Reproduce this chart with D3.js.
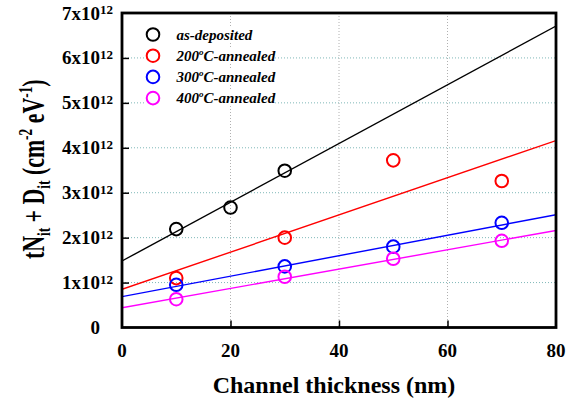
<!DOCTYPE html>
<html>
<head>
<meta charset="utf-8">
<script src="https://cdn.jsdelivr.net/npm/d3@7"></script>
<style>
  body { margin: 0; background: #fff; }
  svg { display: block; font-family: "Liberation Serif", "Times New Roman", serif; }
</style>
</head>
<body>
<div id="chart"></div>
<script>
// values in units of 1e12 cm^-2 eV^-1
const xDeposited = [10, 20, 30];
const yDeposited = [2.19, 2.67, 3.49];
const xAnnealed = [10, 30, 50, 70];
const y200 = [1.10, 2.00, 3.72, 3.26];
const y300 = [0.95, 1.36, 1.80, 2.33];
const y400 = [0.63, 1.13, 1.53, 1.93];
// linear fits: value at x = 0 and x = 80
const fitX = [0, 80];
const fitStart = [1.48, 0.85, 0.686, 0.44];
const fitEnd = [6.71, 4.16, 2.51, 2.16];
const seriesNames = ["as-deposited", "200", "300", "400"];
const seriesColors = ["#000000", "#ff0000", "#0000ff", "#ff00ff"];
const xTicks = [0, 20, 40, 60, 80];
const yTicks = [0, 1, 2, 3, 4, 5, 6, 7];

const width = 575, height = 401;
const margin = {top: 13, right: 19, bottom: 73.5, left: 122};
const w = width - margin.left - margin.right;
const h = height - margin.top - margin.bottom;

const svg = d3.select("#chart").append("svg")
    .attr("width", width)
    .attr("height", height);

const g = svg.append("g")
    .attr("transform", "translate(" + margin.left + "," + margin.top + ")");

const x = d3.scaleLinear().domain([0, 80]).range([0, w]);
const y = d3.scaleLinear().domain([0, 7]).range([h, 0]);

// grid
g.selectAll(".hgrid")
    .data(yTicks.slice(1, -1))
    .enter().append("line")
    .attr("x1", 0).attr("x2", w)
    .attr("y1", d => y(d)).attr("y2", d => y(d))
    .attr("stroke", "#7fb8b8")
    .attr("stroke-width", 1)
    .attr("stroke-dasharray", "1,2");

g.selectAll(".vgrid")
    .data(xTicks.slice(1, -1))
    .enter().append("line")
    .attr("x1", d => x(d)).attr("x2", d => x(d))
    .attr("y1", 0).attr("y2", h)
    .attr("stroke", "#b0b0b0")
    .attr("stroke-width", 1)
    .attr("stroke-dasharray", "1,2");

// fit lines
g.append("clipPath").attr("id", "plotclip")
    .append("rect").attr("width", w).attr("height", h);

const lineGen = d3.line().x(d => x(d[0])).y(d => y(d[1]));
seriesNames.forEach(function(name, i) {
    g.append("path")
        .datum([[fitX[0], fitStart[i]], [fitX[1], fitEnd[i]]])
        .attr("clip-path", "url(#plotclip)")
        .attr("fill", "none")
        .attr("stroke", seriesColors[i])
        .attr("stroke-width", 1.4)
        .attr("d", lineGen);
});

// points
const pointSets = [
    [xDeposited, yDeposited],
    [xAnnealed, y200],
    [xAnnealed, y300],
    [xAnnealed, y400]
];
pointSets.forEach(function(set, i) {
    g.selectAll(".pt" + i)
        .data(set[0].map((v, j) => [v, set[1][j]]))
        .enter().append("circle")
        .attr("cx", d => x(d[0]))
        .attr("cy", d => y(d[1]))
        .attr("r", 6.3)
        .attr("fill", "none")
        .attr("stroke", seriesColors[i])
        .attr("stroke-width", 2);
});

// axes (inward ticks, labels drawn separately)
const xAxis = d3.axisBottom(x).tickValues(xTicks.slice(1, -1)).tickSize(-7).tickFormat("");
const yAxis = d3.axisLeft(y).tickValues(yTicks.slice(1, -1)).tickSize(-7).tickFormat("");
g.append("g").attr("transform", "translate(0," + h + ")").call(xAxis)
    .call(a => a.select(".domain").remove())
    .selectAll("line").attr("stroke", "#000").attr("stroke-width", 1.5);
g.append("g").call(yAxis)
    .call(a => a.select(".domain").remove())
    .selectAll("line").attr("stroke", "#000").attr("stroke-width", 1.5);

g.append("rect")
    .attr("width", w).attr("height", h)
    .attr("fill", "none")
    .attr("stroke", "#000")
    .attr("stroke-width", 2.8);

// x tick labels
g.selectAll(".xlab")
    .data(xTicks)
    .enter().append("text")
    .attr("x", d => x(d))
    .attr("y", h + 29)
    .attr("text-anchor", "middle")
    .attr("font-size", "19px")
    .attr("font-weight", "bold")
    .text(d => d);

// y tick labels
yTicks.forEach(function(t) {
    const lab = g.append("text")
        .attr("x", -22)
        .attr("y", y(t) + 6.5)
        .attr("text-anchor", "end")
        .attr("font-size", "19px")
        .attr("font-weight", "bold");
    if (t === 0) {
        lab.text("0");
    } else {
        lab.text(t + "x10");
        g.append("text")
            .attr("x", -22)
            .attr("y", y(t) + 1)
            .attr("font-size", "13px")
            .attr("font-weight", "bold")
            .text("12");
    }
});

// axis titles
svg.append("text")
    .attr("x", margin.left + w / 2 - 5)
    .attr("y", 393)
    .attr("text-anchor", "middle")
    .attr("font-size", "24px")
    .attr("font-weight", "bold")
    .text("Channel thickness (nm)");

const yt = svg.append("text")
    .attr("transform", "translate(44," + (margin.top + h / 2 - 1) + ") rotate(-90) scale(0.705,1)")
    .attr("text-anchor", "middle")
    .attr("font-size", "31px")
    .attr("font-weight", "bold");
yt.append("tspan").text("tN");
yt.append("tspan").attr("font-size", "19px").attr("dy", 6).text("it");
yt.append("tspan").attr("dy", -6).text(" + D");
yt.append("tspan").attr("font-size", "19px").attr("dy", 6).text("it");
yt.append("tspan").attr("dy", -6).text(" (cm");
yt.append("tspan").attr("font-size", "19px").attr("dy", -12).text("-2");
yt.append("tspan").attr("dy", 12).text(" eV");
yt.append("tspan").attr("font-size", "19px").attr("dy", -12).text("-1");
yt.append("tspan").attr("dy", 12).text(")");

// legend
const legend = g.append("g").attr("transform", "translate(31,21.5)");
seriesNames.forEach(function(name, i) {
    const row = legend.append("g").attr("transform", "translate(0," + (i * 21.2) + ")");
    const bg = row.append("rect")
        .attr("x", -7).attr("y", -8).attr("height", 16)
        .attr("fill", "#fff");
    row.append("circle")
        .attr("r", 6.3)
        .attr("fill", "none")
        .attr("stroke", seriesColors[i])
        .attr("stroke-width", 2);
    const txt = row.append("text")
        .attr("x", 23.5).attr("y", 5)
        .attr("font-size", "15px")
        .attr("font-weight", "bold")
        .attr("font-style", "italic");
    if (i === 0) {
        txt.text(name);
    } else {
        txt.append("tspan").text(name);
        txt.append("tspan").attr("font-size", "9px").attr("dy", -6).text("o");
        txt.append("tspan").attr("dy", 6).text("C-annealed");
    }
    bg.attr("width", 30.5 + txt.node().getComputedTextLength());
});
</script>
</body>
</html>
